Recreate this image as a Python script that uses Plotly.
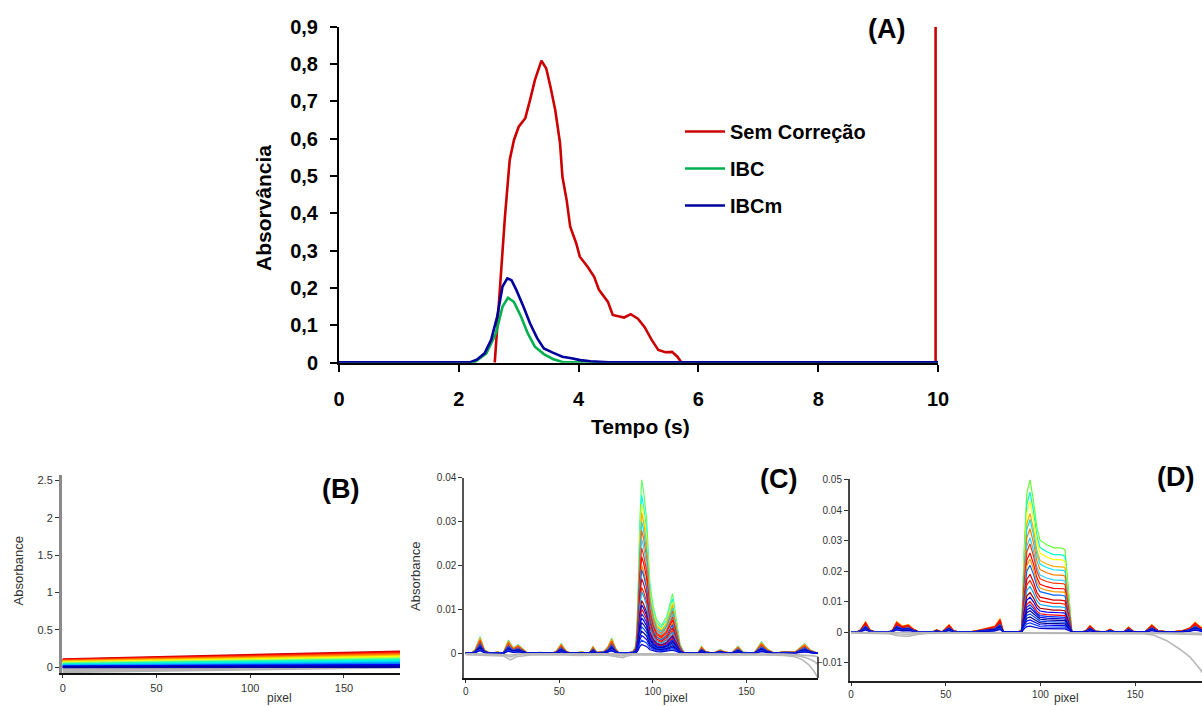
import plotly.graph_objects as go

W, H = 1202, 706
FONT = "Liberation Sans, Arial, sans-serif"

# ---------------- Panel (A): absorbance vs time ----------------
red_t = [2.60, 2.69, 2.77, 2.85, 2.92, 3.00, 3.11, 3.19, 3.27, 3.38, 3.46, 3.53, 3.61, 3.69,
         3.73, 3.80, 3.86, 3.96, 4.02, 4.15, 4.26, 4.34, 4.41, 4.49, 4.57, 4.68, 4.76, 4.87,
         4.99, 5.10, 5.22, 5.33, 5.45, 5.56, 5.65, 5.72, 9.96, 9.96]
red_a = [0.0, 0.21, 0.39, 0.543, 0.596, 0.632, 0.655, 0.704, 0.757, 0.809, 0.788, 0.739, 0.677, 0.588,
         0.498, 0.436, 0.364, 0.32, 0.284, 0.257, 0.23, 0.195, 0.181, 0.163, 0.128, 0.123, 0.121, 0.130,
         0.118, 0.096, 0.061, 0.034, 0.028, 0.029, 0.016, 0.0, 0.0, 0.9]

ibc_t = [0, 0.5, 1.0, 1.5, 2.0, 2.27, 2.46, 2.62, 2.73, 2.82, 2.92, 3.04, 3.15, 3.27, 3.42, 3.57,
         3.73, 4.0, 5.0, 6.0, 7.0, 8.0, 9.0, 10.0]
ibc_a = [0.001, 0.001, 0.001, 0.001, 0.001, 0.002, 0.025, 0.079, 0.150, 0.174, 0.163, 0.123, 0.079,
         0.043, 0.023, 0.010, 0.002, 0.001, 0.001, 0.001, 0.001, 0.001, 0.001, 0.001]

ibcm_t = [0, 0.5, 1.0, 1.5, 2.0, 2.2, 2.3, 2.43, 2.54, 2.64, 2.73, 2.81, 2.88, 2.96, 3.08, 3.19,
          3.31, 3.42, 3.57, 3.73, 3.88, 4.03, 4.2, 4.34, 4.5, 5.0, 6.0, 7.0, 8.0, 9.0, 10.0]
ibcm_a = [0.001, 0.0, 0.001, 0.001, 0.001, 0.002, 0.008, 0.025, 0.061, 0.123, 0.204, 0.226, 0.221,
          0.195, 0.150, 0.105, 0.065, 0.038, 0.027, 0.016, 0.012, 0.007, 0.004, 0.003, 0.001, 0.001,
          0.001, 0.001, 0.001, 0.001, 0.001]

a_yticks = [0, 0.1, 0.2, 0.3, 0.4, 0.5, 0.6, 0.7, 0.8, 0.9]
a_yticktext = ["0", "0,1", "0,2", "0,3", "0,4", "0,5", "0,6", "0,7", "0,8", "0,9"]
a_xticks = [0, 2, 4, 6, 8, 10]

# ---------------- Panel (B): uncorrected spectra ----------------
B_x = [0, 182]
B_colors = ["#c00000", "#ff0000", "#ff3300", "#ff6600", "#ff9900", "#ffcc00", "#ffff00", "#ccff33",
            "#80ff80", "#33ff99", "#00ffcc", "#00e5ff", "#00bfff", "#0080ff", "#0000ff", "#0000aa"]
B_start = [0.105, 0.098, 0.091, 0.084, 0.077, 0.070, 0.063, 0.056, 0.049, 0.042, 0.035, 0.028,
           0.021, 0.014, 0.008, 0.004]
B_end = [0.210, 0.198, 0.186, 0.174, 0.162, 0.150, 0.138, 0.126, 0.114, 0.102, 0.090, 0.076,
         0.062, 0.046, 0.028, 0.010]
B_gray_start = [0.0, -0.02, -0.04, -0.06]
B_gray_end = [0.03, 0.02, 0.012, 0.006]

# ---------------- Panel (C): IBC corrected spectra ----------------
C_x = [0, 3, 5, 7.7, 10, 13, 17, 20, 22.8, 25.5, 28, 30, 33, 40, 46, 48.5, 51, 53.5, 56, 62, 66,
       68, 70, 74, 76, 78, 80, 82, 86, 89.5, 91, 92, 93, 94, 95, 96.6, 98.4, 100.2, 102, 104.6,
       107.3, 110.5, 112.6, 114.4, 116.2, 118, 124, 126, 128, 132, 136, 138, 142, 145.5, 148, 154,
       158, 161, 165, 170, 176, 181, 184, 188]
C_main = [0, 0, 0, 0, 0, 0, 0, 0, 0, 0, 0, 0, 0, 0, 0, 0, 0, 0, 0, 0, 0,
          0, 0, 0, 0, 0, 0, 0, 0, 0, 0.002, 0.012, 0.030, 0.0395, 0.037, 0.031, 0.016, 0.0106, 0.0076, 0.0064,
          0.0083, 0.0136, 0.008, 0.0023, 0.0004, 0, 0, 0, 0, 0, 0, 0, 0, 0, 0, 0,
          0, 0, 0, 0, 0, 0, 0, 0]
C_small = [0, 0, 0.0008, 0.0038, 0.0008, 0, 0.0003, 0, 0.003, 0.0012, 0.002, 0.0012, 0, 0.0002, 0,
           0.0005, 0.0022, 0.0006, 0, 0.0003, 0, 0.0016, 0.0002, 0.0005, 0.0015, 0.0035, 0.0012, 0, 0,
           0.0005, 0, 0, 0, 0, 0, 0, 0, 0, 0, 0, 0, 0, 0, 0, 0, 0, 0, 0.0016, 0.0005, 0, 0.0008,
           0.0004, 0, 0.0016, 0.0003, 0, 0.0026, 0.001, 0, 0.0004, 0.0003, 0.0022, 0.0008, 0]
C_peak = [0.0395, 0.036, 0.034, 0.032, 0.030, 0.028, 0.026, 0.024, 0.022, 0.020, 0.019, 0.017, 0.015,
          0.014, 0.012, 0.011, 0.010, 0.009, 0.008, 0.007, 0.006, 0.005, 0.004, 0.003, 0.002]
C_bump = [0.55, 1.0, 0.85, 0.95, 0.7, 0.8, 0.6, 0.75, 0.5, 0.65, 0.6, 0.55, 0.45, 0.5, 0.4, 0.45,
          0.35, 0.4, 0.3, 0.35, 0.25, 0.3, 0.2, 0.25, 0.15]
C_colors = ["#66ff66", "#00ffff", "#ffff00", "#ffaa00", "#00e0ff", "#ff6600", "#33ccff", "#ff3300",
            "#ff0000", "#ff8800", "#0066ff", "#e00000", "#ff2200", "#00aaff", "#b00000", "#0000ff",
            "#ff0000", "#0033ff", "#0000dd", "#000099", "#0044ff", "#000088", "#0000ff", "#1144ff",
            "#0000cc"]
C_gray_x = [0, 10, 20, 24, 27, 35, 50, 60, 75, 84, 86, 90, 100, 120, 140, 160, 170, 176, 180, 183,
            186, 188]
C_gray = [
    [-0.0003, -0.0004, -0.0006, -0.0015, -0.0008, -0.0004, -0.0003, -0.0005, -0.0004, -0.001,
     -0.0006, -0.0003, -0.0003, -0.0003, -0.0004, -0.0004, -0.0005, -0.0008, -0.0015, -0.0025,
     -0.004, -0.0055],
    [-0.0002, -0.0003, -0.0003, -0.0008, -0.0004, -0.0002, -0.0002, -0.0003, -0.0002, -0.0006,
     -0.0003, -0.0002, -0.0002, -0.0002, -0.0003, -0.0003, -0.0003, -0.0005, -0.0008, -0.0012,
     -0.0018, -0.0025],
    [-0.0001, -0.0002, -0.0002, -0.0004, -0.0002, -0.0001, -0.0001, -0.0002, -0.0001, -0.0003,
     -0.0002, -0.0001, -0.0001, -0.0001, -0.0002, -0.0002, -0.0002, -0.0003, -0.0004, -0.0005,
     -0.0006, -0.0008],
]

# ---------------- Panel (D): IBCm corrected spectra ----------------
D_x = [0, 3, 5, 7.7, 10, 13, 20, 22, 24.1, 27, 30.3, 33, 36, 43, 45.2, 48, 51.8, 54, 57, 62, 66.4,
       70, 73, 76, 78.7, 80.5, 84, 88, 90.1, 91.4, 92.8, 94.5, 96.3, 98.1, 99.8, 103.3, 106.9, 110.4,
       112.1, 113, 114.8, 116.5, 117.4, 122, 124, 126.2, 129, 134, 136.8, 139, 144, 146.5, 149, 155,
       158.8, 162, 168, 175, 179, 181.7, 184, 188]
D_main = [0, 0, 0, 0, 0, 0, 0, 0, 0, 0, 0, 0, 0, 0, 0, 0, 0, 0, 0, 0, 0,
          0, 0, 0, 0, 0, 0, 0, 0.001, 0.027, 0.0455, 0.050, 0.0433, 0.0345, 0.0302, 0.0287, 0.0277,
          0.0277, 0.0274, 0.027, 0.0138, 0.0007, 0, 0, 0, 0, 0, 0, 0, 0, 0, 0, 0, 0,
          0, 0, 0, 0, 0, 0, 0, 0]
D_small = [0, 0, 0.0008, 0.0035, 0.0008, 0, 0, 0.0008, 0.0035, 0.002, 0.0025, 0.001, 0, 0, 0.0008, 0,
           0.0025, 0.0006, 0, 0, 0.0005, 0.001, 0.0015, 0.002, 0.0045, 0.0, 0, 0, 0, 0, 0, 0, 0, 0,
           0, 0, 0, 0, 0, 0, 0, 0, 0, 0, 0.0005, 0.0022, 0.0004, 0, 0.001, 0.0002, 0, 0.0017, 0.0003,
           0, 0.0025, 0.0006, 0, 0.0005, 0.0015, 0.0033, 0.002, 0.0]
D_peak = [0.050, 0.046, 0.043, 0.039, 0.037, 0.034, 0.031, 0.029, 0.026, 0.024, 0.022, 0.019,
          0.017, 0.015, 0.013, 0.0115, 0.010, 0.009, 0.008, 0.007, 0.006, 0.005, 0.004, 0.003, 0.002]
D_bump = [0.5, 0.9, 0.8, 1.0, 0.7, 0.85, 0.6, 0.75, 0.9, 0.65, 0.6, 0.7, 0.5, 0.55, 0.45, 0.5, 0.4,
          0.45, 0.35, 0.4, 0.3, 0.35, 0.25, 0.3, 0.2]
D_colors = ["#66ff33", "#00ffcc", "#ffff00", "#ffaa00", "#00e5ff", "#ff7700", "#33ccff", "#ff3300",
            "#ff0000", "#ff9900", "#0066ff", "#dd0000", "#ff2200", "#00aaff", "#aa0000", "#0000ff",
            "#ff0000", "#0033ff", "#0000dd", "#000099", "#0044ff", "#000088", "#0000ff", "#1144ff",
            "#0000cc"]
D_gray_x = [0, 10, 20, 25, 30, 35, 40, 60, 80, 100, 120, 140, 155, 160, 166.7, 173.8, 179, 184.3, 188]
D_gray = [
    [-0.0003, -0.0003, -0.0005, -0.0012, -0.0014, -0.0008, -0.0004, -0.0003, -0.0003, -0.0003,
     -0.0003, -0.0004, -0.0005, -0.001, -0.0028, -0.0057, -0.0082, -0.0122, -0.0155],
    [-0.0002, -0.0002, -0.0003, -0.0006, -0.0007, -0.0004, -0.0002, -0.0002, -0.0002, -0.0002,
     -0.0002, -0.0003, -0.0003, -0.0004, -0.0005, -0.0006, -0.0007, -0.0008, -0.0009],
    [-0.0001, -0.0001, -0.0002, -0.0003, -0.0003, -0.0002, -0.0001, -0.0001, -0.0001, -0.0001,
     -0.0001, -0.0002, -0.0002, -0.0002, -0.0003, -0.0003, -0.0003, -0.0004, -0.0004],
]


def px(xp):
    return xp / W


def py(yp):
    return 1 - yp / H


fig = go.Figure()

# Panel A traces
fig.add_trace(go.Scatter(x=red_t, y=red_a, mode="lines", name="Sem Correção", legendgroup="g1",
                         line=dict(color="#cc0000", width=2.6), xaxis="x", yaxis="y"))
fig.add_trace(go.Scatter(x=ibc_t, y=ibc_a, mode="lines", name="IBC", legendgroup="g2",
                         line=dict(color="#00b050", width=2.6), xaxis="x", yaxis="y"))
fig.add_trace(go.Scatter(x=ibcm_t, y=ibcm_a, mode="lines", name="IBCm", legendgroup="g3",
                         line=dict(color="#00009c", width=2.6), xaxis="x", yaxis="y"))

# Panel B traces
for s, e in zip(B_gray_start, B_gray_end):
    fig.add_trace(go.Scatter(x=B_x, y=[s, e], mode="lines", showlegend=False, hoverinfo="skip",
                             line=dict(color="#b4b4b4", width=3), xaxis="x2", yaxis="y2"))
for s, e, c in zip(B_start, B_end, B_colors):
    fig.add_trace(go.Scatter(x=B_x, y=[s, e], mode="lines", showlegend=False, hoverinfo="skip",
                             line=dict(color=c, width=2.6), xaxis="x2", yaxis="y2"))


def family(xs, main, small, peaks, bumps, colors, gray_x, grays, xa, ya):
    top = max(main)
    for pk, bw, c in zip(peaks, bumps, colors):
        ys = [pk / top * m + bw * s for m, s in zip(main, small)]
        fig.add_trace(go.Scatter(x=xs, y=ys, mode="lines", showlegend=False, hoverinfo="skip",
                                 line=dict(color=c, width=1.2), xaxis=xa, yaxis=ya))
    for g in grays:
        fig.add_trace(go.Scatter(x=gray_x, y=g, mode="lines", showlegend=False, hoverinfo="skip",
                                 line=dict(color="#b8b8b8", width=1.6), xaxis=xa, yaxis=ya))


family(C_x, C_main, C_small, C_peak, C_bump, C_colors, C_gray_x, C_gray, "x3", "y3")
family(D_x, D_main, D_small, D_peak, D_bump, D_colors, D_gray_x, D_gray, "x4", "y4")

big_tick = dict(family=FONT, size=20, color="black", weight="bold")
small_tick = dict(family=FONT, size=11, color="#333333")
tiny_tick = dict(family=FONT, size=10, color="#333333")

axA = dict(showgrid=False, zeroline=False, showline=True, linecolor="black", linewidth=2,
           ticks="outside", ticklen=7, tickwidth=2, tickcolor="black", tickfont=big_tick,
           automargin=False)
axS = dict(showgrid=False, zeroline=False, showline=True, ticks="outside", ticklen=4, tickwidth=1.3,
           tickcolor="#333333", tickfont=small_tick, automargin=False)
axSx = dict(axS, ticklen=3)
axT = dict(axS, tickfont=tiny_tick)
axTx = dict(axT, ticklen=3)

fig.update_layout(
    width=W, height=H, margin=dict(l=0, r=0, t=0, b=0, autoexpand=False),
    paper_bgcolor="white", plot_bgcolor="white",
    font=dict(family=FONT, color="black"),
    xaxis=dict(axA, domain=[px(339), px(938)], range=[0, 10], anchor="y",
               tickvals=a_xticks, ticklabelstandoff=10),
    yaxis=dict(axA, domain=[py(362.7), py(26.7)], range=[0, 0.9], anchor="x",
               tickvals=a_yticks, ticktext=a_yticktext, ticklabelstandoff=8),
    xaxis2=dict(axSx, domain=[px(62), px(400)], range=[-0.37, 179.9], anchor="y2",
                tickvals=[0, 50, 100, 150], linecolor="#111111", linewidth=2),
    yaxis2=dict(axS, domain=[py(673.3), py(475)], range=[-0.080, 2.574], anchor="x2",
                tickvals=[0, 0.5, 1, 1.5, 2, 2.5], linecolor="#8a8a8a", linewidth=3),
    xaxis3=dict(axTx, domain=[px(464.3), px(818)], range=[-0.75, 188.2], anchor="y3",
                tickvals=[0, 50, 100, 150], linecolor="#111111", linewidth=2),
    yaxis3=dict(axT, domain=[py(678.3), py(477.7)], range=[-0.0057, 0.0400], anchor="x3",
                tickvals=[0, 0.01, 0.02, 0.03, 0.04], linecolor="#555555", linewidth=2),
    xaxis4=dict(axTx, domain=[px(850), 1.0], range=[-0.53, 185.3], anchor="y4",
                tickvals=[0, 50, 100, 150], linecolor="#222222", linewidth=2),
    yaxis4=dict(axT, domain=[py(680.7), py(479.3)], range=[-0.01595, 0.0502], anchor="x4",
                tickvals=[-0.01, 0, 0.01, 0.02, 0.03, 0.04, 0.05], linecolor="#444444", linewidth=2),
    legend=dict(x=px(680), y=py(112), xanchor="left", yanchor="top", bgcolor="rgba(0,0,0,0)",
                font=dict(family=FONT, size=20, color="black", weight="bold"),
                traceorder="grouped", tracegroupgap=8, itemwidth=40),
    showlegend=True,
)

ann = [
    dict(text="(A)", x=px(886.7), y=py(29), size=27, bold=True, angle=0),
    dict(text="(B)", x=px(340), y=py(489), size=27, bold=True, angle=0),
    dict(text="(C)", x=px(778), y=py(479), size=27, bold=True, angle=0),
    dict(text="(D)", x=px(1175), y=py(477), size=27, bold=True, angle=0),
    dict(text="Tempo (s)", x=px(640), y=py(426), size=21, bold=True, angle=0),
    dict(text="Absorvância", x=px(263), y=py(208), size=21, bold=True, angle=-90),
    dict(text="Absorbance", x=px(17.5), y=py(571), size=13, bold=False, angle=-90),
    dict(text="Absorbance", x=px(415), y=py(577), size=13, bold=False, angle=-90),
    dict(text="pixel", x=px(279.3), y=py(698), size=12, bold=False, angle=0),
    dict(text="pixel", x=px(676), y=py(698), size=12, bold=False, angle=0),
    dict(text="pixel", x=px(1066.7), y=py(698), size=12, bold=False, angle=0),
]
for a in ann:
    fig.add_annotation(
        text=a["text"], x=a["x"], y=a["y"], xref="paper", yref="paper", showarrow=False,
        xanchor="center", yanchor="middle", textangle=a["angle"],
        font=dict(family=FONT, size=a["size"], color="black" if a["bold"] else "#333333",
                  weight="bold" if a["bold"] else "normal"),
    )

# right edge of the (C) frame below the baseline
fig.add_shape(type="line", xref="paper", yref="y3", x0=px(818), x1=px(818), y0=-0.0057, y1=-0.0008,
              line=dict(color="#222222", width=1.5))

fig.write_html("out.html")
